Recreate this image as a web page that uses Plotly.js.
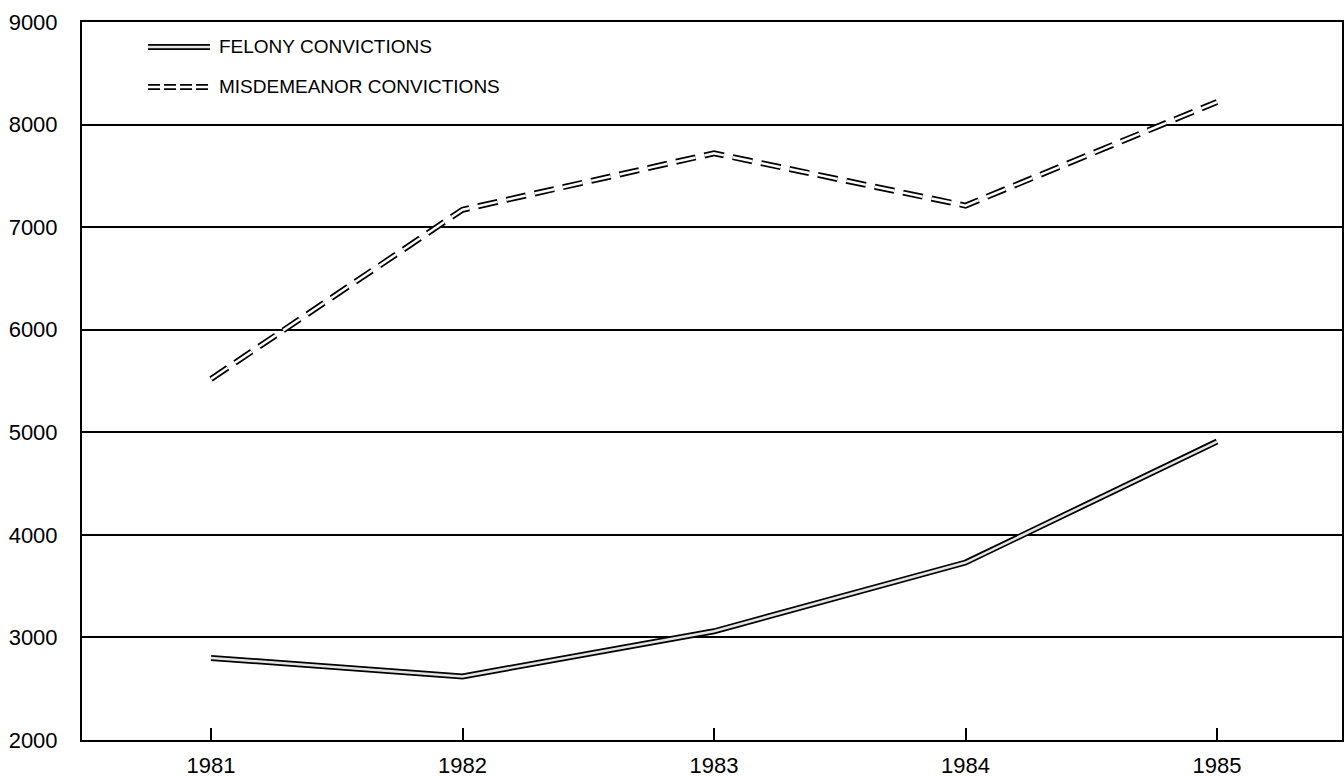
<!DOCTYPE html>
<html>
<head>
<meta charset="utf-8">
<script src="https://cdn.plot.ly/plotly-3.0.1.min.js"></script>
<style>html,body{margin:0;padding:0;background:#fff;}#chart{width:1344px;height:778px;}</style>
</head>
<body>
<div id="chart"></div>
<script>
const years = [1981, 1982, 1983, 1984, 1985];
const felony = [2800, 2620, 3060, 3730, 4910];
const misdemeanor = [5520, 7170, 7720, 7210, 8220];
const seriesNames = ["FELONY CONVICTIONS", "MISDEMEANOR CONVICTIONS"];
const yTicks = [2000, 3000, 4000, 5000, 6000, 7000, 8000, 9000];

const dashPat = "20px,9px";
const traces = [
  {x: years, y: felony, mode: "lines", line: {color: "#000", width: 6}, showlegend: false, hoverinfo: "skip"},
  {x: years, y: felony, mode: "lines", line: {color: "#e4e4e4", width: 2.5}, showlegend: false, name: seriesNames[0]},
  {x: years, y: misdemeanor, mode: "lines", line: {color: "#000", width: 6, dash: dashPat}, showlegend: false, hoverinfo: "skip"},
  {x: years, y: misdemeanor, mode: "lines", line: {color: "#fff", width: 2.5, dash: dashPat}, showlegend: false, name: seriesNames[1]}
];

const font = {family: "Liberation Sans, Arial, sans-serif", color: "#000"};
const layout = {
  width: 1344, height: 778,
  margin: {l: 82, r: 2, t: 22, b: 38},
  paper_bgcolor: "#fff", plot_bgcolor: "#fff",
  showlegend: false,
  font: Object.assign({size: 22}, font),
  xaxis: {
    range: [1980.487, 1985.497],
    tickvals: years, ticktext: years.map(String),
    ticks: "inside", ticklen: 12, tickwidth: 2, tickcolor: "#000",
    showgrid: false, zeroline: false,
    showline: true, mirror: true, linecolor: "#000", linewidth: 2,
    ticklabelstandoff: 5,
    tickfont: Object.assign({size: 22}, font)
  },
  yaxis: {
    range: [2000, 9000],
    tickvals: yTicks, ticktext: yTicks.map(String),
    ticks: "", showgrid: true, gridcolor: "#000", gridwidth: 2,
    zeroline: false, showline: true, mirror: true, linecolor: "#000", linewidth: 2,
    ticklabelstandoff: 18,
    tickfont: Object.assign({size: 22}, font)
  },
  shapes: [
    {type: "line", xref: "paper", yref: "paper", x0: 0.0524, x1: 0.1016, y0: 0.9652, y1: 0.9652, line: {color: "#000", width: 6}},
    {type: "line", xref: "paper", yref: "paper", x0: 0.0524, x1: 0.1016, y0: 0.9652, y1: 0.9652, line: {color: "#e4e4e4", width: 2.5}},
    {type: "line", xref: "paper", yref: "paper", x0: 0.0524, x1: 0.1016, y0: 0.9095, y1: 0.9095, line: {color: "#000", width: 6, dash: "12px,4px"}},
    {type: "line", xref: "paper", yref: "paper", x0: 0.0524, x1: 0.1016, y0: 0.9095, y1: 0.9095, line: {color: "#fff", width: 2.5, dash: "12px,4px"}}
  ],
  annotations: [
    {xref: "paper", yref: "paper", x: 0.107, y: 0.9652, xanchor: "left", yanchor: "middle", text: seriesNames[0], showarrow: false, font: Object.assign({size: 19}, font)},
    {xref: "paper", yref: "paper", x: 0.107, y: 0.9095, xanchor: "left", yanchor: "middle", text: seriesNames[1], showarrow: false, font: Object.assign({size: 19}, font)}
  ]
};

Plotly.newPlot("chart", traces, layout, {displayModeBar: false, staticPlot: true});
</script>
</body>
</html>
